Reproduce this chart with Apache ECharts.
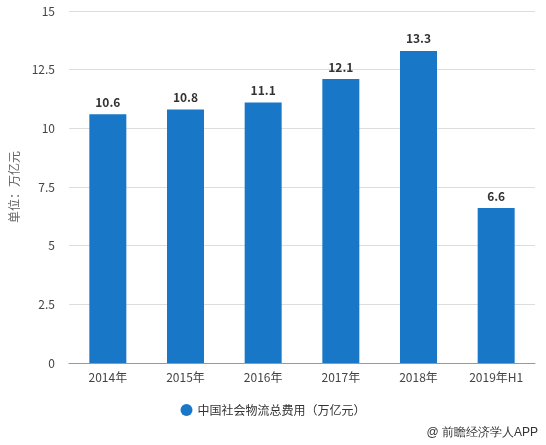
<!DOCTYPE html>
<html><head><meta charset="utf-8">
<script src="https://cdn.jsdelivr.net/npm/echarts@6/dist/echarts.min.js"></script>
<style>html,body{margin:0;padding:0;background:#fff}#c{width:546px;height:445px}</style>
</head><body><div id="c"></div>
<script>
const categories = ['2014年','2015年','2016年','2017年','2018年','2019年H1'];
const values = [10.6, 10.8, 11.1, 12.1, 13.3, 6.6];
const seriesName = '中国社会物流总费用（万亿元）';
const yAxisName = '单位：万亿元';
const sourceText = '@ 前瞻经济学人APP';

const chart = echarts.init(document.getElementById('c'));
chart.setOption({
  animation: false,
  textStyle: {fontFamily: '"Noto Sans CJK SC", "Microsoft YaHei", sans-serif'},
  grid: {left: 69, right: 11, top: 11, bottom: 82},
  legend: {
    data: [seriesName], bottom: 24, left: 'center', icon: 'circle', itemWidth: 12, itemHeight: 12,
    textStyle: {color: '#333', fontSize: 12}
  },
  graphic: [{type: 'text', right: 8, bottom: 6, style: {text: sourceText, fill: '#333', fontSize: 12, font: '12px "Noto Sans CJK SC", sans-serif'}}],
  xAxis: {
    type: 'category', data: categories,
    axisLine: {lineStyle: {color: '#999'}},
    axisTick: {alignWithLabel: true, lineStyle: {color: '#999'}},
    axisLabel: {color: '#444', fontSize: 12, margin: 8}
  },
  yAxis: {
    type: 'value', min: 0, max: 15, interval: 2.5,
    name: yAxisName, nameLocation: 'middle', nameGap: 47, nameRotate: 90,
    nameTextStyle: {color: '#666', fontSize: 12},
    axisLine: {show: false}, axisTick: {show: false},
    axisLabel: {color: '#444', fontSize: 12, margin: 14},
    splitLine: {lineStyle: {color: '#ddd'}}
  },
  series: [{
    name: seriesName, type: 'bar', data: values, barWidth: 37,
    itemStyle: {color: '#1877c7'},
    label: {show: true, position: 'top', color: '#333', fontWeight: 'bold', fontSize: 12, distance: 6}
  }]
});
</script></body></html>
